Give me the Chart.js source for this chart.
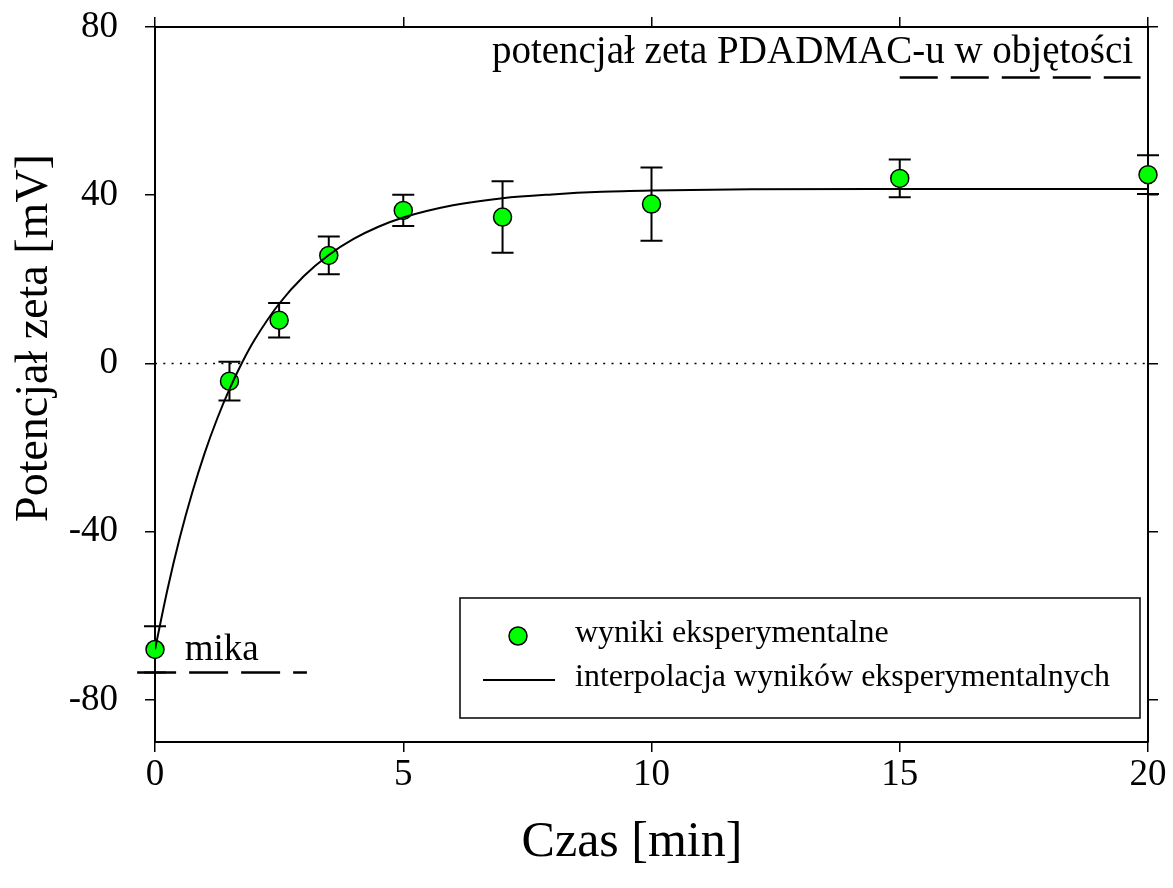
<!DOCTYPE html>
<html>
<head>
<meta charset="utf-8">
<script src="https://cdn.jsdelivr.net/npm/chart.js@4.4.0/dist/chart.umd.min.js"></script>
<style>
html, body { margin: 0; padding: 0; background: #fff; }
#wrap { width: 1173px; height: 888px; }
</style>
</head>
<body>
<div id="wrap"><canvas id="c" width="1173" height="888"></canvas></div>
<script>
// measured points (time in min, zeta potential in mV, error)
const times = [0, 1.5, 2.5, 3.5, 5, 7, 10, 15, 20];
const zeta = [-68, -4.2, 10.3, 25.7, 36.4, 34.8, 37.9, 44, 44.9];
const zetaErr = [5.5, 4.6, 4.1, 4.5, 3.7, 8.5, 8.7, 4.5, 4.6];

// fitted curve
const fitTimes = [0, 0.25, 0.5, 0.75, 1, 1.25, 1.5, 1.75, 2, 2.5, 3, 3.5, 4, 4.5, 5, 6, 7, 8, 9, 10, 12, 15, 20];
const fitZeta = [-68, -53.8, -41.4, -30.7, -21.3, -13.2, -6.1, 0.1, 5.5, 14.2, 20.8, 25.8, 29.6, 32.5, 34.7, 37.6, 39.3, 40.2, 40.8, 41.1, 41.4, 41.5, 41.5];

// reference levels
const micaLevel = -73.5;
const micaRange = [-0.36, 3.06];
const bulkLevel = 68;
const bulkRange = [15, 19.85];

const xTicks = [0, 5, 10, 15, 20];
const yTicks = [-80, -40, 0, 40, 80];

const micaLabel = 'mika';
const bulkLabel = 'potencjał zeta PDADMAC-u w objętości';
const legendLabels = ['wyniki eksperymentalne', 'interpolacja wyników eksperymentalnych'];
const xTitle = 'Czas [min]';
const yTitle = 'Potencjał zeta [mV]';

const FONT = '"Liberation Serif", "Times New Roman", serif';
const GREEN = '#00ff00';

function pts(xs, ys) { return xs.map((x, i) => ({x: x, y: ys[i]})); }

const errorBars = {
  id: 'errorBars',
  beforeDatasetsDraw(chart) {
    const ctx = chart.ctx, xs = chart.scales.x, ys = chart.scales.y;
    ctx.save();
    ctx.strokeStyle = '#000';
    ctx.lineWidth = 2;
    times.forEach((t, i) => {
      const px = xs.getPixelForValue(t);
      const top = ys.getPixelForValue(zeta[i] + zetaErr[i]);
      const bot = ys.getPixelForValue(zeta[i] - zetaErr[i]);
      ctx.beginPath();
      ctx.moveTo(px, top); ctx.lineTo(px, bot);
      ctx.moveTo(px - 11, top); ctx.lineTo(px + 11, top);
      ctx.moveTo(px - 11, bot); ctx.lineTo(px + 11, bot);
      ctx.stroke();
    });
    ctx.restore();
  }
};

const annotations = {
  id: 'annotations',
  afterDraw(chart) {
    const ctx = chart.ctx, xs = chart.scales.x, ys = chart.scales.y;
    const a = chart.chartArea;
    ctx.save();
    ctx.fillStyle = '#000';
    ctx.textBaseline = 'alphabetic';

    ctx.font = '37px ' + FONT;
    ctx.textAlign = 'left';
    ctx.fillText(micaLabel, xs.getPixelForValue(0.6), ys.getPixelForValue(-70.5));

    ctx.font = '39px ' + FONT;
    ctx.textAlign = 'right';
    ctx.fillText(bulkLabel, xs.getPixelForValue(19.7), ys.getPixelForValue(71.5));

    // legend box
    const lx = a.left + 305, ly = a.top + 571, lw = 680, lh = 120;
    ctx.fillStyle = '#fff';
    ctx.fillRect(lx, ly, lw, lh);
    ctx.strokeStyle = '#000';
    ctx.lineWidth = 1.5;
    ctx.strokeRect(lx, ly, lw, lh);

    ctx.beginPath();
    ctx.arc(lx + 58, ly + 38, 9, 0, Math.PI * 2);
    ctx.fillStyle = GREEN;
    ctx.fill();
    ctx.lineWidth = 1.5;
    ctx.stroke();

    ctx.beginPath();
    ctx.moveTo(lx + 23, ly + 82);
    ctx.lineTo(lx + 95, ly + 82);
    ctx.lineWidth = 2;
    ctx.stroke();

    ctx.fillStyle = '#000';
    ctx.font = '32px ' + FONT;
    ctx.textAlign = 'left';
    ctx.textBaseline = 'middle';
    ctx.fillText(legendLabels[0], lx + 115, ly + 36);
    ctx.fillText(legendLabels[1], lx + 115, ly + 80);

    // axis titles
    ctx.textAlign = 'center';
    ctx.font = '50px ' + FONT;
    ctx.fillText(xTitle, 632, 843);
    ctx.save();
    ctx.translate(35, 338);
    ctx.rotate(-Math.PI / 2);
    ctx.font = '46px ' + FONT;
    ctx.fillText(yTitle, 0, 0);
    ctx.restore();

    ctx.restore();
  }
};

function fixTicks(list) {
  return s => { s.ticks = list.map(v => ({value: v})); };
}

function fitBox(w, h) {
  return s => {
    if (w !== null) s.width = w;
    if (h !== null) s.height = h;
    s.paddingTop = 0; s.paddingBottom = 0;
    s.paddingLeft = 0; s.paddingRight = 0;
  };
}

const gridOpts = {drawOnChartArea: false, color: '#000', lineWidth: 1.5, tickLength: 10};
const borderOpts = {display: true, color: '#000', width: 2};
const tickFont = {family: FONT, size: 37};

new Chart(document.getElementById('c'), {
  type: 'scatter',
  data: {
    datasets: [
      {
        data: pts(fitTimes, fitZeta),
        showLine: true,
        borderColor: '#000',
        borderWidth: 2,
        cubicInterpolationMode: 'monotone',
        pointRadius: 0
      },
      {
        data: pts(times, zeta),
        pointRadius: 9,
        pointBackgroundColor: GREEN,
        pointBorderColor: '#000',
        pointBorderWidth: 1.5,
        clip: false
      },
      {
        data: pts([0, 20], [0, 0]),
        showLine: true,
        borderColor: '#000',
        borderWidth: 1.5,
        borderDash: [2, 6.3],
        pointRadius: 0
      },
      {
        data: pts(micaRange, [micaLevel, micaLevel]),
        showLine: true,
        borderColor: '#000',
        borderWidth: 2.5,
        borderDash: [39, 13],
        pointRadius: 0,
        clip: false
      },
      {
        data: pts(bulkRange, [bulkLevel, bulkLevel]),
        showLine: true,
        borderColor: '#000',
        borderWidth: 2.5,
        borderDash: [38, 13],
        pointRadius: 0
      }
    ]
  },
  options: {
    responsive: false,
    animation: false,
    devicePixelRatio: 1,
    layout: {padding: 0},
    plugins: {legend: {display: false}, tooltip: {enabled: false}},
    scales: {
      x: {
        type: 'linear', position: 'bottom', min: 0, max: 20,
        afterBuildTicks: fixTicks(xTicks),
        afterFit: fitBox(null, 146),
        grid: gridOpts, border: borderOpts,
        ticks: {font: tickFont, color: '#000', padding: 1, maxRotation: 0}
      },
      x2: {
        type: 'linear', position: 'top', min: 0, max: 20,
        afterBuildTicks: fixTicks(xTicks),
        afterFit: fitBox(null, 27),
        grid: gridOpts, border: borderOpts,
        ticks: {display: false}
      },
      y: {
        type: 'linear', position: 'left', min: -90, max: 80,
        afterBuildTicks: fixTicks(yTicks),
        afterFit: fitBox(155, null),
        grid: gridOpts, border: borderOpts,
        ticks: {font: tickFont, color: '#000', padding: 27}
      },
      y2: {
        type: 'linear', position: 'right', min: -90, max: 80,
        afterBuildTicks: fixTicks(yTicks),
        afterFit: fitBox(25, null),
        grid: gridOpts, border: borderOpts,
        ticks: {display: false}
      }
    }
  },
  plugins: [errorBars, annotations]
});
</script>
</body>
</html>
